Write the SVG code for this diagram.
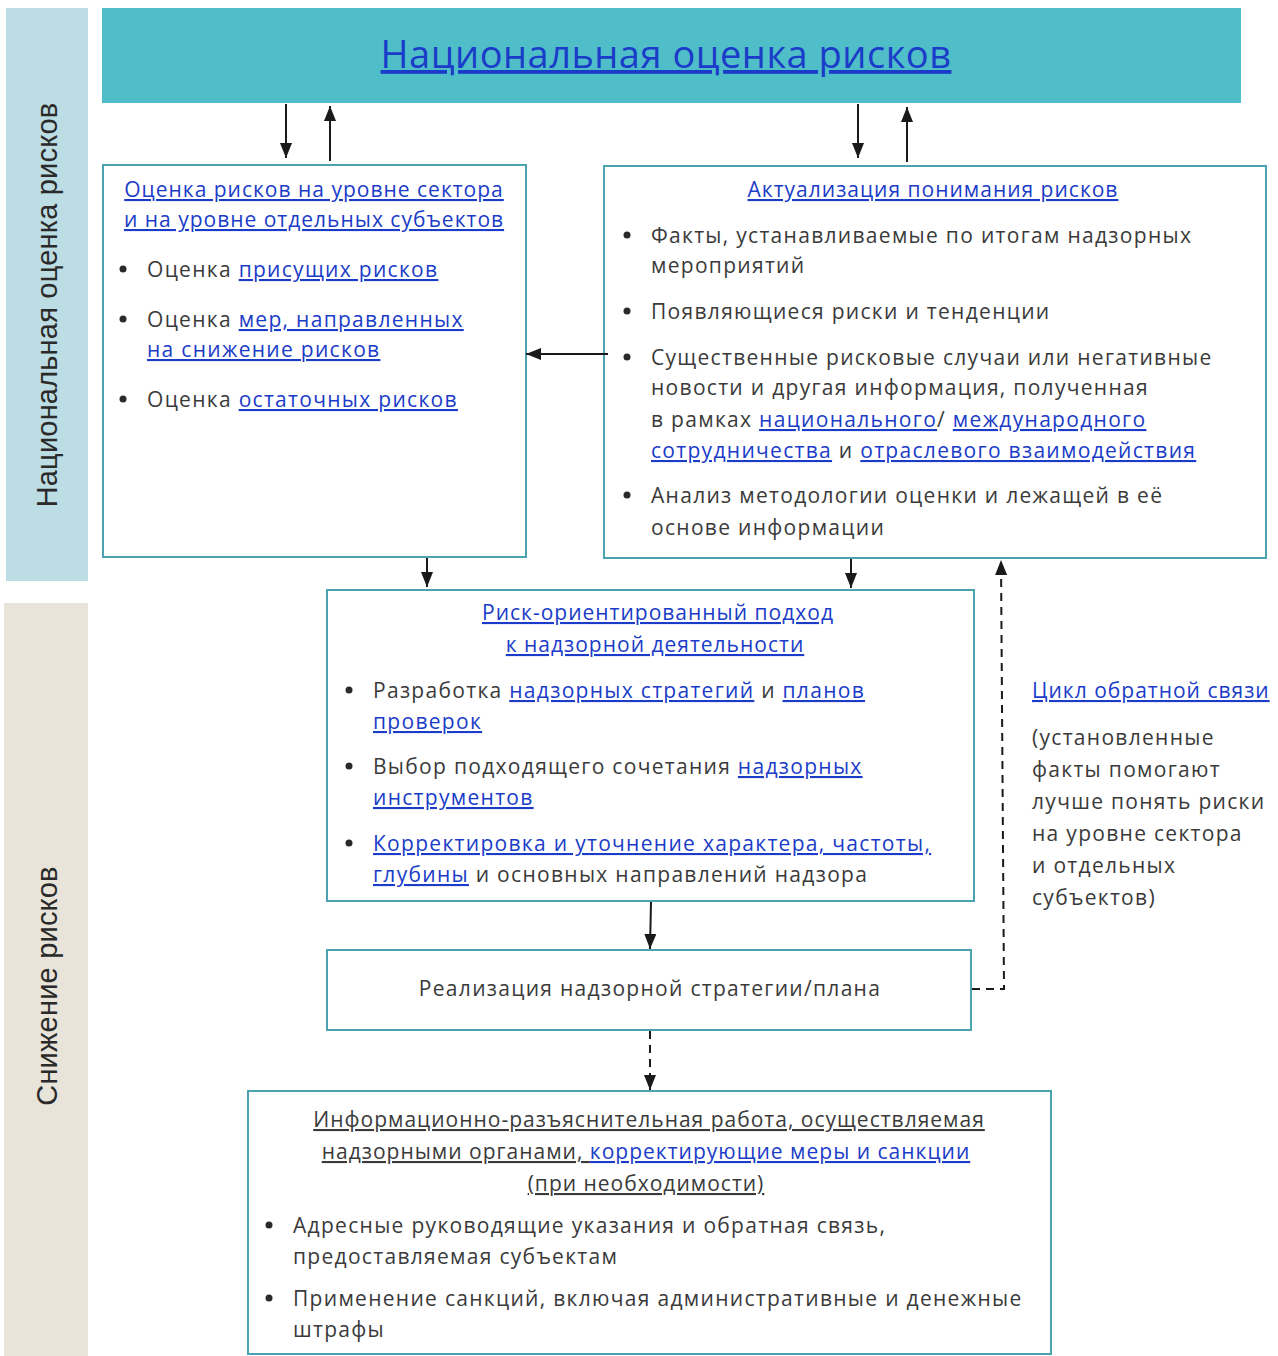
<svg xmlns="http://www.w3.org/2000/svg" width="1278" height="1356" viewBox="0 0 1278 1356">
<defs>
<marker id="ah" viewBox="0 0 15 12" refX="15" refY="6" markerWidth="15" markerHeight="12" markerUnits="userSpaceOnUse" orient="auto"><path d="M0,0 L15,6 L0,12 z" fill="#1a1a1a"/></marker>
<style>
.box{fill:#fff;stroke:#4aa3b0;stroke-width:2}
.t{font-family:"Open Sans","DejaVu Sans",sans-serif;font-size:21px;fill:#3a3a3a;letter-spacing:1.3px}
.h{letter-spacing:1.0px}
.l{fill:#1a3cc8;text-decoration:underline}
.u{text-decoration:underline}
.c{text-anchor:middle}
.b{fill:#2a2a2a}
.side{font-family:"Liberation Sans",Arial,sans-serif;font-size:29px;fill:#2a2a2a;letter-spacing:0.2px}
.con{stroke:#1a1a1a;stroke-width:2;fill:none}
.dash{stroke-dasharray:8 6}
</style>
</defs>
<rect width="1278" height="1356" fill="#fff"/>
<g id="band-assessment"><rect x="6" y="8" width="82" height="573" fill="#bcdde3"/>
<text class="side c" transform="translate(57,305) rotate(-90)">Национальная оценка рисков</text></g>
<g id="band-mitigation"><rect x="4" y="603" width="84" height="753" fill="#e8e4da"/>
<text class="side c" transform="translate(57,986) rotate(-90)">Снижение рисков</text></g>

<g id="nra"><rect x="102" y="8" width="1139" height="95" fill="#50bec9"/>
<text class="t c l" x="666" y="68" style="font-size:38px;letter-spacing:0.5px">Национальная оценка рисков</text></g>

<g id="sector"><rect class="box" x="103" y="165" width="423" height="392"/>
<text class="t h c" x="314" y="197"><tspan class="l">Оценка рисков на уровне сектора</tspan></text>
<text class="t h c" x="314" y="227"><tspan class="l">и на уровне отдельных субъектов</tspan></text>
<circle class="b" cx="123" cy="269" r="3.5"/><text class="t" x="147" y="277">Оценка <tspan class="l">присущих рисков</tspan></text>
<circle class="b" cx="123" cy="319" r="3.5"/><text class="t" x="147" y="327">Оценка <tspan class="l">мер, направленных </tspan></text>
<text class="t" x="147" y="357"><tspan class="l">на снижение рисков</tspan></text>
<circle class="b" cx="123" cy="399" r="3.5"/><text class="t" x="147" y="407">Оценка <tspan class="l">остаточных рисков</tspan></text></g>

<g id="update"><rect class="box" x="604" y="166" width="662" height="392"/>
<text class="t h c" x="933" y="197"><tspan class="l">Актуализация понимания рисков</tspan></text>
<circle class="b" cx="627" cy="235" r="3.5"/><text class="t" x="651" y="243">Факты, устанавливаемые по итогам надзорных</text>
<text class="t" x="651" y="273">мероприятий</text>
<circle class="b" cx="627" cy="311" r="3.5"/><text class="t" x="651" y="319">Появляющиеся риски и тенденции</text>
<circle class="b" cx="627" cy="357" r="3.5"/><text class="t" x="651" y="365">Существенные рисковые случаи или негативные</text>
<text class="t" x="651" y="395">новости и другая информация, полученная</text>
<text class="t" x="651" y="427">в рамках <tspan class="l">национального</tspan>/ <tspan class="l">международного </tspan></text>
<text class="t" x="651" y="458"><tspan class="l">сотрудничества</tspan> и <tspan class="l">отраслевого взаимодействия</tspan></text>
<circle class="b" cx="627" cy="495" r="3.5"/><text class="t" x="651" y="503">Анализ методологии оценки и лежащей в её</text>
<text class="t" x="651" y="535">основе информации</text></g>

<g id="rba"><rect class="box" x="327" y="590" width="647" height="311"/>
<text class="t h c" x="658" y="620"><tspan class="l">Риск-ориентированный подход </tspan></text>
<text class="t h c" x="655" y="652"><tspan class="l">к надзорной деятельности</tspan></text>
<circle class="b" cx="349" cy="690" r="3.5"/><text class="t" x="373" y="698">Разработка <tspan class="l">надзорных стратегий</tspan> и <tspan class="l">планов </tspan></text>
<text class="t" x="373" y="729"><tspan class="l">проверок</tspan></text>
<circle class="b" cx="349" cy="766" r="3.5"/><text class="t" x="373" y="774">Выбор подходящего сочетания <tspan class="l">надзорных </tspan></text>
<text class="t" x="373" y="805"><tspan class="l">инструментов</tspan></text>
<circle class="b" cx="349" cy="843" r="3.5"/><text class="t" x="373" y="851"><tspan class="l">Корректировка и уточнение характера, частоты, </tspan></text>
<text class="t" x="373" y="882"><tspan class="l">глубины</tspan> и основных направлений надзора</text></g>

<g id="implement"><rect class="box" x="327" y="950" width="644" height="80"/>
<text class="t c" x="650" y="996">Реализация надзорной стратегии/плана</text></g>

<g id="outreach"><rect class="box" x="248" y="1091" width="803" height="263"/>
<text class="t h c" x="649" y="1127"><tspan class="u">Информационно-разъяснительная работа, осуществляемая </tspan></text>
<text class="t h c" x="646" y="1159"><tspan class="u">надзорными органами, </tspan><tspan class="l">корректирующие меры и санкции</tspan></text>
<text class="t h c" x="646" y="1191"><tspan class="u">(при необходимости)</tspan></text>
<circle class="b" cx="269" cy="1225" r="3.5"/><text class="t" x="293" y="1233">Адресные руководящие указания и обратная связь,</text>
<text class="t" x="293" y="1264">предоставляемая субъектам</text>
<circle class="b" cx="269" cy="1298" r="3.5"/><text class="t" x="293" y="1306">Применение санкций, включая административные и денежные</text>
<text class="t" x="293" y="1337">штрафы</text></g>

<g id="feedback-label">
<text class="t h" x="1032" y="698"><tspan class="l">Цикл обратной связи</tspan></text>
<text class="t" x="1032" y="745">(установленные</text>
<text class="t" x="1032" y="777">факты помогают</text>
<text class="t" x="1032" y="809">лучше понять риски</text>
<text class="t" x="1032" y="841">на уровне сектора</text>
<text class="t" x="1032" y="873">и отдельных</text>
<text class="t" x="1032" y="905">субъектов)</text></g>

<g id="connectors">
<line class="con" x1="286" y1="104" x2="286" y2="158" marker-end="url(#ah)"/>
<line class="con" x1="330" y1="161" x2="330" y2="106" marker-end="url(#ah)"/>
<line class="con" x1="858" y1="104" x2="858" y2="158" marker-end="url(#ah)"/>
<line class="con" x1="907" y1="162" x2="907" y2="107" marker-end="url(#ah)"/>
<line class="con" x1="608" y1="354" x2="526" y2="354" marker-end="url(#ah)"/>
<line class="con" x1="427" y1="558" x2="427" y2="587" marker-end="url(#ah)"/>
<line class="con" x1="851" y1="559" x2="851" y2="588" marker-end="url(#ah)"/>
<line class="con" x1="651" y1="902" x2="650" y2="949" marker-end="url(#ah)"/>
<line class="con dash" x1="650" y1="1031" x2="650" y2="1090" marker-end="url(#ah)"/>
<polyline class="con dash" points="972,989 1004,989 1001,560" marker-end="url(#ah)"/>
</g>
</svg>
